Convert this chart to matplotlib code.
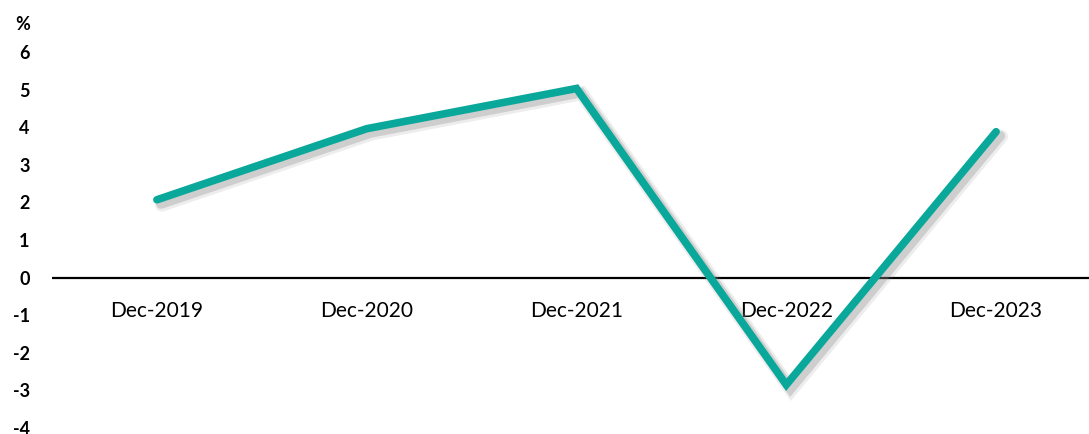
import matplotlib.pyplot as plt
import matplotlib.patheffects as pe

categories = ["Dec-2019", "Dec-2020", "Dec-2021", "Dec-2022", "Dec-2023"]
values = [2.07, 3.96, 5.03, -2.85, 3.88]
yticks = [-4, -3, -2, -1, 0, 1, 2, 3, 4, 5, 6]

plt.rcParams["font.family"] = ["Lato", "DejaVu Sans"]

fig = plt.figure(figsize=(10.89, 4.34), dpi=100)
# plot area runs slightly past the right edge of the canvas
ax = fig.add_axes([52 / 1089, 6 / 434, (1101 - 52) / 1089, (428 - 52) / 434])

x = list(range(len(categories)))

# soft drop shadow under the line
shadow = [pe.SimpleLineShadow(offset=(3, -3), shadow_color="#888888", alpha=0.3, linewidth=7),
          pe.SimpleLineShadow(offset=(3.5, -3.5), shadow_color="#888888", alpha=0.15, linewidth=10),
          pe.Normal()]
ax.plot(x, values, color="#0AA89A", linewidth=5.5, solid_capstyle="round",
        solid_joinstyle="miter", path_effects=shadow, zorder=3)

ax.axhline(0, color="black", linewidth=1.6, zorder=1)

ax.set_xlim(-0.5, len(categories) - 0.5)
ax.set_ylim(-4, 6)
ax.set_yticks(yticks)
ax.set_yticklabels([str(t) for t in yticks], fontweight="bold", fontsize=13)
ax.tick_params(axis="y", length=0, pad=16)
ax.set_xticks([])

for xi, lab in zip(x, categories):
    ax.text(xi, -0.9, lab, ha="center", va="center", fontsize=15, zorder=2)

fig.text(30 / 1089, 1 - 25 / 434, "%", ha="right", va="center", fontsize=13, fontweight="bold")

for s in ax.spines.values():
    s.set_visible(False)

fig.savefig("out.png", dpi=100)
